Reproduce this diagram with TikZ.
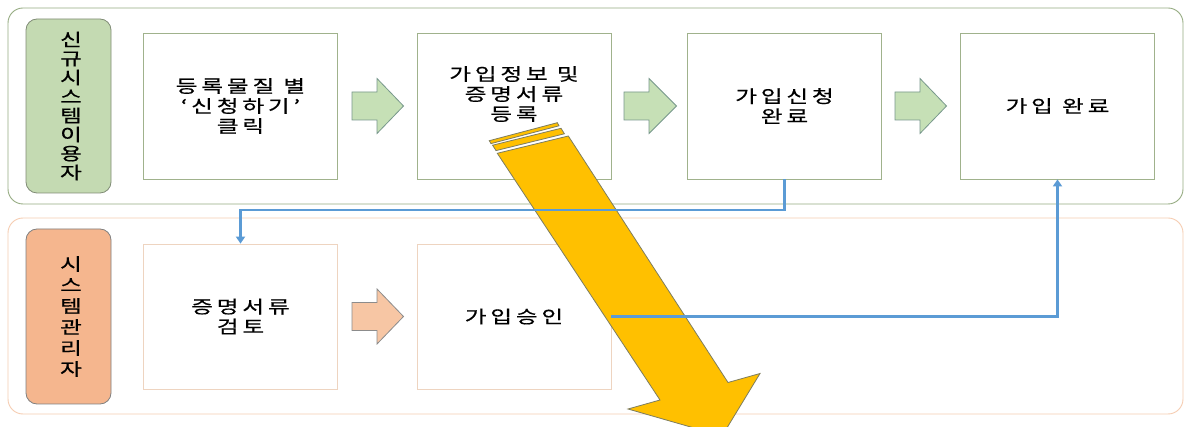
\documentclass[tikz,border=0pt]{standalone}
\usepackage{fontspec}
\newfontfamily\kr[FakeStretch=1.35,LetterSpace=22,FakeBold=0.6]{Noto Sans CJK KR}
\usetikzlibrary{arrows.meta}
\definecolor{gcont}{RGB}{150,172,130}
\definecolor{gpill}{RGB}{196,218,178}
\definecolor{gpilledge}{RGB}{128,140,118}
\definecolor{gbox}{RGB}{160,178,140}
\definecolor{garrow}{RGB}{198,224,182}
\definecolor{garrowedge}{RGB}{120,152,140}
\definecolor{ocont}{RGB}{246,205,178}
\definecolor{opill}{RGB}{245,182,142}
\definecolor{opilledge}{RGB}{128,128,128}
\definecolor{obox}{RGB}{238,212,192}
\definecolor{oarrow}{RGB}{247,198,164}
\definecolor{oarrowedge}{RGB}{140,140,140}
\definecolor{conn}{RGB}{91,155,213}
\definecolor{yel}{RGB}{255,192,0}
\definecolor{yeledge}{RGB}{125,125,95}
\begin{document}
\begin{tikzpicture}[x=1pt,y=-1pt,
  every node/.style={font=\kr\fontsize{17.5}{20}\selectfont, text=black, align=center},
  gcontainer/.style={draw=gcont, line width=0.9pt, rounded corners=15pt},
  ocontainer/.style={draw=ocont, line width=0.9pt, rounded corners=15pt},
  gpillbox/.style={draw=gpilledge, fill=gpill, line width=0.8pt, rounded corners=11pt, minimum width=85pt, minimum height=174pt, inner sep=0pt},
  opillbox/.style={draw=opilledge, fill=opill, line width=0.8pt, rounded corners=11pt, minimum width=85pt, minimum height=175pt, inner sep=0pt},
  gstepbox/.style={draw=gbox, line width=0.8pt, minimum width=194pt, minimum height=146pt, inner sep=0pt},
  ostepbox/.style={draw=obox, line width=0.8pt, minimum width=194pt, minimum height=145pt, inner sep=0pt},
  gblock/.style={draw=garrowedge, fill=garrow, line width=0.8pt},
  oblock/.style={draw=oarrowedge, fill=oarrow, line width=0.8pt},
  flow/.style={draw=conn, line width=2.2pt, -{Triangle[length=7pt,width=9pt]}},
  bigarrow/.style={draw=yeledge, fill=yel, line width=0.8pt, line join=miter}
]
\useasboundingbox (0,0) rectangle (1186,427);
\fill[white] (0,0) rectangle (1186,427);

% containers
\draw[gcontainer] (8,8) rectangle (1183,204);
\draw[ocontainer] (8,218) rectangle (1183,414);

% lane labels
\node[gpillbox] (lane1) at (68.5,106) {};
\node (lane1t) at (71,106) {신\\[-1pt]규\\[-1pt]시\\[-1pt]스\\[-1pt]템\\[-1pt]이\\[-1pt]용\\[-1pt]자};
\node[opillbox] (lane2) at (68.5,316.5) {};
\node (lane2t) at (71,316.5) {시\\[1pt]스\\[1pt]템\\[1pt]관\\[1pt]리\\[1pt]자};

% step boxes
\node[gstepbox] (b1) at (240.5,106) {등록물질 별\\‘신청하기’\\클릭};
\node[gstepbox] (b2) at (514,106) {};
\node (b2t) at (514,94) {가입정보 및\\증명서류\\등록};
\node[gstepbox] (b3) at (784.5,106) {가입신청\\완료};
\node[gstepbox] (b4) at (1057.5,106) {가입 완료};
\node[ostepbox] (b5) at (240.5,316.5) {증명서류\\검토};
\node[ostepbox] (b6) at (514,316.5) {가입승인};

% block arrows
\newcommand{\blockarr}[4]{%
  \path[#4] (#1,#3-14) -- (#1+25,#3-14) -- (#1+25,#3-27.5) -- (#2,#3) -- (#1+25,#3+27.5) -- (#1+25,#3+14) -- (#1,#3+14) -- cycle;}
\blockarr{352}{403.5}{106}{gblock}
\blockarr{624}{676.5}{106}{gblock}
\blockarr{895}{946.5}{106}{gblock}
\blockarr{352}{403.5}{316.5}{oblock}

% big yellow arrow
\begin{scope}
\clip (0,0) rectangle (1186,427);
\path[bigarrow] (489.3,140.7) -- (557.3,122.7) -- (559,125.8) -- (491,143.6) -- cycle;
\path[bigarrow] (492.6,145.2) -- (561,128.3) -- (564.4,133.8) -- (496,150.6) -- cycle;
\path[bigarrow] (497.3,153.3) -- (568.3,136) -- (728,382.5) -- (760,373.5) -- (722,436) -- (628,409) -- (660,400) -- cycle;
\end{scope}

% connectors
\draw[flow] (b3.south) -- ++(0,31) -| (b5.north);
\draw[flow] (b6.east) -| (b4.south);
\end{tikzpicture}
\end{document}
